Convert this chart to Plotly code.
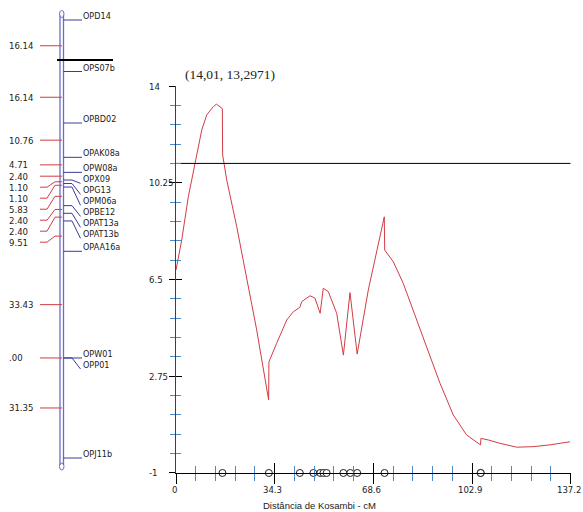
import numpy as np
import plotly.graph_objects as go

# ---------------- linkage group ----------------
marker_names = ["OPD14", "OPS07b", "OPBD02", "OPAK08a", "OPW08a", "OPX09", "OPG13",
                "OPM06a", "OPBE12", "OPAT13a", "OPAT13b", "OPAA16a", "OPW01", "OPP01", "OPJ11b"]
interval_cM = [16.14, 16.14, 10.76, 4.71, 2.40, 1.10, 1.10, 5.83, 2.40, 2.40, 9.51,
               33.43, 0.00, 31.35]
qtl_line_cM = 12.5

# ---------------- LOD profile ----------------
lod_pos = [0.0, 1.98, 4.28, 6.6, 8.93, 10.67, 12.96, 14.01, 15.88, 16.1, 16.2, 17.62,
           21.1, 24.57, 28.05, 32.2, 32.3, 35.0, 38.48, 40.77, 43.04, 43.69, 46.58,
           48.3, 50.1, 51.2, 52.94, 55.86, 58.18, 60.48, 62.98, 66.84, 69.76, 72.4,
           72.55, 75.53, 79.0, 82.48, 87.14, 91.76, 96.38, 101.04, 105.85, 106.0,
           108.55, 112.6, 118.4, 124.2, 130.0, 136.95]
lod_val = [6.87, 8.03, 9.71, 11.0, 12.29, 12.88, 13.2, 13.2971, 13.17, 13.13, 11.33, 10.36,
           8.55, 6.48, 4.54, 1.83, 3.31, 4.03, 4.93, 5.25, 5.42, 5.64, 5.87,
           5.78, 5.19, 6.16, 6.03, 5.19, 3.57, 5.99, 3.61, 6.09, 7.64, 8.93,
           7.64, 7.19, 6.35, 5.32, 3.88, 2.48, 1.25, 0.47, 0.09, 0.34,
           0.28, 0.15, 0.0, 0.02, 0.09, 0.21]
peak_pos = 14.01
peak_lod = 13.2971
peak_text = "(14,01, 13,2971)"
threshold = 11.0

x_ticks = [0, 34.3, 68.6, 102.9, 137.2]
x_tick_labels = ["0", "34.3", "68.6", "102.9", "137.2"]
y_ticks = [14, 10.25, 6.5, 2.75, -1]
y_tick_labels = ["14", "10.25", "6.5", "2.75", "-1"]
x_title = "Distância de Kosambi - cM"

W, H = 583, 512
SANS = "DejaVu Sans Condensed, Liberation Sans Narrow, Liberation Sans, Arial, sans-serif"
BAR_BLUE = "#6c6cc8"
TICK_BLUE = "#3a3a9c"
RED = "#d23c44"
MINOR_BLUE = "#4d88c6"

marker_pos = np.concatenate([[0.0], np.cumsum(interval_cM)])
mids = (marker_pos[:-1] + marker_pos[1:]) / 2

# pixel scale of the linkage bar (map top at 20 px, end at 458 px)
top_px, end_px = 20.0, 458.0
ppc = (end_px - top_px) / marker_pos[-1]


def spread(values, gap):
    out = []
    for v in values:
        out.append(max(v, out[-1] + gap) if out else v)
    return out


gap = 11.0 / ppc
name_y = spread(list(marker_pos), gap)
dist_y = spread(list(mids), gap)

fig = go.Figure()

# bar (double line)
bar_top = marker_pos[0] - 4.5 / ppc
bar_end = marker_pos[-1] + 7 / ppc
for bx in (60.0, 63.5):
    fig.add_trace(go.Scatter(x=[bx, bx], y=[bar_top, bar_end], mode="lines",
                             line=dict(color=BAR_BLUE, width=1.3),
                             xaxis="x2", yaxis="y2", hoverinfo="skip"))

# marker leaders
lx, ly = [], []
for ym, yl in zip(marker_pos, name_y):
    if abs(yl - ym) < 1e-9:
        lx += [63.5, 82, None]
        ly += [ym, ym, None]
    else:
        lx += [63.5, 72, 80.5, None]
        ly += [ym, ym, yl, None]
fig.add_trace(go.Scatter(x=lx, y=ly, mode="lines", line=dict(color=TICK_BLUE, width=1),
                         xaxis="x2", yaxis="y2", hoverinfo="skip"))

# interval leaders
rx, ry = [], []
for ym, yl in zip(mids, dist_y):
    if abs(yl - ym) < 1e-9:
        rx += [40, 62, None]
        ry += [ym, ym, None]
    else:
        rx += [40, 47, 55, 62, None]
        ry += [yl, yl, ym, ym, None]
fig.add_trace(go.Scatter(x=rx, y=ry, mode="lines", line=dict(color=RED, width=1),
                         xaxis="x2", yaxis="y2", hoverinfo="skip"))

# QTL position bar
fig.add_trace(go.Scatter(x=[57, 113], y=[qtl_line_cM, qtl_line_cM], mode="lines",
                         line=dict(color="black", width=2),
                         xaxis="x2", yaxis="y2", hoverinfo="skip"))

# ---------------- LOD chart ----------------
fig.add_trace(go.Scatter(x=lod_pos, y=lod_val, mode="lines",
                         line=dict(color=RED, width=1), hoverinfo="skip"))
fig.add_trace(go.Scatter(x=[x_ticks[0], x_ticks[-1]], y=[threshold, threshold], mode="lines",
                         line=dict(color="black", width=1), hoverinfo="skip"))
fig.add_trace(go.Scatter(x=marker_pos[1:], y=[y_ticks[-1]] * (len(marker_pos) - 1),
                         mode="markers", cliponaxis=False,
                         marker=dict(symbol="circle", size=7, color="white",
                                     line=dict(color="#222222", width=1)),
                         hoverinfo="skip"))
# carrier for the overlaid (inward tick) axes
fig.add_trace(go.Scatter(x=[0], y=[0], mode="markers", marker=dict(opacity=0),
                         xaxis="x3", yaxis="y3", hoverinfo="skip"))

xdom = [176 / W, 570.7 / W]
ydom = [1 - 473 / H, 1 - 86 / H]
pad_x = 0.01
pad_y = 0.001
xr = [x_ticks[0] - pad_x, x_ticks[-1] + pad_x]
yr = [y_ticks[-1] - pad_y, y_ticks[0] + pad_y]
x_minor = (x_ticks[1] - x_ticks[0]) / 5
y_minor = (y_ticks[0] - y_ticks[1]) / 5

annotations = []
# tick labels of the LOD axes
for v, t in zip(y_ticks, y_tick_labels):
    annotations.append(dict(x=147 / W, xref="paper", y=v, yref="y", text=t, showarrow=False,
                            xanchor="left", yanchor="middle",
                            font=dict(family=SANS, size=9.5, color="#222222")))
for v, t in zip(x_ticks, x_tick_labels):
    annotations.append(dict(x=v, xref="x", y=1 - 489 / H, yref="paper", text=t,
                            showarrow=False, xanchor="center", yanchor="middle", xshift=-2,
                            font=dict(family=SANS, size=9.5, color="#222222")))
# linkage-map labels
for ym, yl, nm in zip(marker_pos, name_y, marker_names):
    annotations.append(dict(x=80.5, xref="x2", y=yl, yref="y2", text=nm, showarrow=False,
                            xanchor="left", yanchor="middle", yshift=4,
                            font=dict(family=SANS, size=9, color="#1a1a1a")))
for v, yl in zip(interval_cM, dist_y):
    s = f"{v:.2f}"
    if s.startswith("0"):
        s = s[1:]
    annotations.append(dict(x=7, xref="x2", y=yl, yref="y2", text=s, showarrow=False,
                            xanchor="left", yanchor="middle",
                            font=dict(family=SANS, size=9.5, color="#222222")))
annotations.append(dict(x=319 / W, xref="paper", y=1 - 505 / H, yref="paper", text=x_title,
                        showarrow=False, xanchor="center", yanchor="middle",
                        font=dict(family="Liberation Sans, Arial, sans-serif", size=9.5,
                                  color="#222222")))
annotations.append(dict(x=peak_pos, xref="x", y=peak_lod, yref="y", text=peak_text,
                        showarrow=False, xanchor="center", yanchor="middle",
                        xshift=14, yshift=30,
                        font=dict(family="Liberation Serif, Times New Roman, serif", size=13.5,
                                  color="#222222")))

common_x = dict(domain=xdom, range=xr, showgrid=False, zeroline=False, automargin=False,
                tickmode="array", tickvals=x_ticks, tickcolor="black", tickwidth=1,
                showticklabels=False)
common_y = dict(domain=ydom, range=yr, showgrid=False, zeroline=False, automargin=False,
                tickmode="array", tickvals=y_ticks, tickcolor="black", tickwidth=1,
                showticklabels=False)

fig.update_layout(
    width=W, height=H, margin=dict(l=0, r=0, t=0, b=0, autoexpand=False),
    paper_bgcolor="white", plot_bgcolor="rgba(0,0,0,0)", showlegend=False,
    xaxis=dict(**common_x, anchor="y", ticks="outside", ticklen=10,
               showline=True, linecolor="black", linewidth=1,
               minor=dict(tickmode="linear", tick0=0, dtick=x_minor, ticks="outside",
                          ticklen=7, tickcolor=MINOR_BLUE, tickwidth=1, showgrid=False)),
    xaxis3=dict(**common_x, anchor="y3", overlaying="x", ticks="inside", ticklen=10,
                showline=False,
                minor=dict(tickmode="linear", tick0=0, dtick=x_minor, ticks="inside",
                           ticklen=7, tickcolor=MINOR_BLUE, tickwidth=1, showgrid=False)),
    yaxis=dict(**common_y, anchor="x", ticks="outside", ticklen=6,
               showline=True, linecolor="#3232a6", linewidth=1,
               minor=dict(tickmode="linear", tick0=y_ticks[-1], dtick=y_minor,
                          ticks="outside", ticklen=5, tickcolor=MINOR_BLUE, tickwidth=1,
                          showgrid=False)),
    yaxis3=dict(**common_y, anchor="x3", overlaying="y", ticks="inside", ticklen=6,
                showline=False,
                minor=dict(tickmode="linear", tick0=y_ticks[-1], dtick=y_minor,
                           ticks="inside", ticklen=5, tickcolor=MINOR_BLUE, tickwidth=1,
                           showgrid=False)),
    xaxis2=dict(domain=[0, 160 / W], range=[0, 160], visible=False, anchor="y2",
                fixedrange=True),
    yaxis2=dict(domain=[0, 1], range=[(H - top_px) / ppc, -top_px / ppc], visible=False,
                anchor="x2", fixedrange=True),
    annotations=annotations,
)

# rounded caps of the linkage bar
for yc in (bar_top - 1.5 / ppc, bar_end + 1.5 / ppc):
    fig.add_shape(type="circle", xref="x2", yref="y2", x0=59.5, x1=64.0,
                  y0=yc - 3.5 / ppc, y1=yc + 3.5 / ppc,
                  line=dict(color=BAR_BLUE, width=1))

fig.write_html("out.html")
